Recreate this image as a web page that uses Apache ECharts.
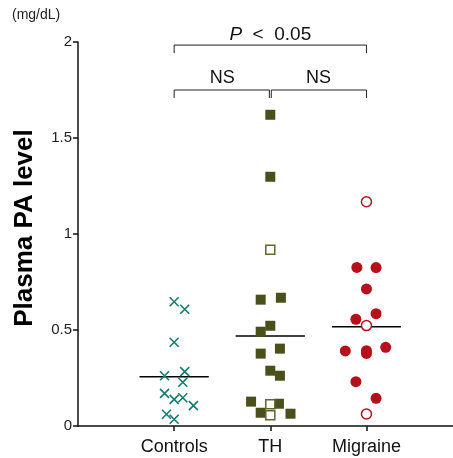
<!DOCTYPE html>
<html>
<head>
<meta charset="utf-8">
<script src="https://cdn.jsdelivr.net/npm/echarts@6/dist/echarts.min.js"></script>
<style>
html,body{margin:0;padding:0;background:#fff;}
#chart{width:453px;height:458px;}
</style>
</head>
<body>
<div id="chart"></div>
<script>
// ---- data ----
const categories = ['Controls', 'TH', 'Migraine'];
const yUnit = '(mg/dL)';
const yTitle = 'Plasma PA level';

const controlsValues = [0.647, 0.608, 0.436, 0.262, 0.283, 0.228, 0.170, 0.139, 0.147, 0.106, 0.061, 0.035];
const controlsJitter = [0, 0.11, 0, -0.10, 0.11, 0.09, -0.10, 0, 0.09, 0.20, -0.08, 0];

const thFilledValues = [1.621, 1.298, 0.658, 0.668, 0.522, 0.491, 0.377, 0.403, 0.288, 0.262, 0.127, 0.116, 0.069, 0.064];
const thFilledJitter = [0, 0, -0.10, 0.11, 0, -0.10, -0.10, 0.10, 0, 0.10, -0.20, 0.09, -0.10, 0.21];
const thOpenValues = [0.918, 0.113, 0.056];
const thOpenJitter = [0, 0, 0];

const migraineFilledValues = [0.826, 0.825, 0.714, 0.585, 0.556, 0.391, 0.392, 0.378, 0.410, 0.231, 0.144];
const migraineFilledJitter = [-0.10, 0.10, 0, 0.10, -0.11, -0.22, 0, 0, 0.20, -0.11, 0.10];
const migraineOpenValues = [1.168, 0.523, 0.0625];
const migraineOpenJitter = [0, 0, 0];

const groupMeans = [0.257, 0.469, 0.517];

const comparisons = [
  { from: 1, to: 3, label: 'P < 0.05', level: 1.984 },
  { from: 1, to: 2, label: 'NS', level: 1.75 },
  { from: 2, to: 3, label: 'NS', level: 1.75 }
];

// ---- build ----
const FONT = '"Liberation Sans", Arial, Helvetica, sans-serif';
const TEAL = '#167a6e';
const OLIVE = '#4b4f1c';
const RED = '#b5101b';

function pts(catIdx, vals, jit) {
  return vals.map((v, i) => [catIdx + 1 + jit[i], v]);
}

const meanHalf = 0.36;
const meanSeries = groupMeans.map((m, i) => ({
  type: 'line',
  data: [[i + 1 - meanHalf, m], [i + 1 + meanHalf, m]],
  symbol: 'none',
  lineStyle: { color: '#000', width: 1.5 },
  z: 2,
  silent: true
}));

const legH = 0.042;
const bracketSeries = comparisons.map(c => {
  const a = c.from + (c.from === 2 ? 0.01 : 0);
  const b = c.to - (c.to === 2 ? 0.01 : 0);
  return {
    type: 'line',
    data: [[a, c.level - legH], [a, c.level], [b, c.level], [b, c.level - legH]],
    symbol: 'none',
    clip: false,
    lineStyle: { color: '#222', width: 1 },
    silent: true
  };
});

const option = {
  animation: false,
  backgroundColor: '#fff',
  grid: { left: 78, right: 0, top: 42, bottom: 32, containLabel: false },
  xAxis: {
    type: 'value',
    min: 0,
    max: 3.9,
    splitLine: { show: false },
    axisLine: { show: true, onZero: false, lineStyle: { color: '#111', width: 1.5 } },
    axisTick: { show: true, customValues: [1, 2, 3], length: 5, inside: false, lineStyle: { color: '#111', width: 1.5 } },
    axisLabel: {
      customValues: [1, 2, 3],
      formatter: v => categories[Math.round(v) - 1] || '',
      fontSize: 18,
      fontFamily: FONT,
      color: '#111',
      margin: 12
    }
  },
  yAxis: {
    type: 'value',
    min: 0,
    max: 2,
    interval: 0.5,
    splitLine: { show: false },
    axisLine: { show: true, lineStyle: { color: '#111', width: 1.5 } },
    axisTick: { show: true, length: 5, lineStyle: { color: '#111', width: 1.5 } },
    axisLabel: { fontSize: 15, fontFamily: FONT, color: '#222', margin: 6 },
    name: yTitle,
    nameLocation: 'middle',
    nameRotate: 90,
    nameGap: 40,
    nameTextStyle: { fontSize: 26, fontWeight: 'bold', fontFamily: FONT, color: '#000', padding: [0, 0, 0, 12] }
  },
  series: [
    ...meanSeries,
    ...bracketSeries,
    {
      type: 'scatter',
      data: pts(0, controlsValues, controlsJitter),
      symbol: 'path://M0,0L10,10M10,0L0,10',
      symbolSize: 9,
      itemStyle: { color: 'none', borderColor: TEAL, borderWidth: 1.6, opacity: 1 },
      z: 3
    },
    {
      type: 'scatter',
      data: pts(1, thFilledValues, thFilledJitter),
      symbol: 'rect',
      symbolSize: 10,
      itemStyle: { color: OLIVE, opacity: 1 },
      z: 3
    },
    {
      type: 'scatter',
      data: pts(1, thOpenValues, thOpenJitter),
      symbol: 'rect',
      symbolSize: 9,
      itemStyle: { color: '#fff', borderColor: '#64652f', borderWidth: 1.5, opacity: 1 },
      z: 4
    },
    {
      type: 'scatter',
      data: pts(2, migraineFilledValues, migraineFilledJitter),
      symbol: 'circle',
      symbolSize: 11,
      itemStyle: { color: RED, opacity: 1 },
      z: 3
    },
    {
      type: 'scatter',
      data: pts(2, migraineOpenValues, migraineOpenJitter),
      symbol: 'circle',
      symbolSize: 10,
      itemStyle: { color: '#fff', borderColor: RED, borderWidth: 1.5, opacity: 1 },
      z: 4
    }
  ]
};

const chart = echarts.init(document.getElementById('chart'), null, { renderer: 'canvas' });
chart.setOption(option);

// annotations positioned through the axes
const graphics = [];
comparisons.forEach(c => {
  const p = chart.convertToPixel({ gridIndex: 0 }, [(c.from + c.to) / 2, c.level]);
  const isP = c.label.startsWith('P');
  graphics.push({
    type: 'text',
    x: p[0],
    y: p[1] - (isP ? 1 : 3),
    style: isP ? {
      text: '{i|P}  <  0.05',
      rich: { i: { fontStyle: 'italic', fontSize: 19, fontFamily: FONT, fill: '#111' } },
      fontSize: 19, fontFamily: FONT, fill: '#111',
      align: 'center', verticalAlign: 'bottom'
    } : {
      text: c.label,
      fontSize: 18, fontFamily: FONT, fill: '#111',
      align: 'center', verticalAlign: 'bottom'
    }
  });
});
graphics.push({
  type: 'text',
  left: 12,
  top: 8,
  style: { text: yUnit, fontSize: 14, fontFamily: FONT, fill: '#222' }
});
chart.setOption({ graphic: graphics });
</script>
</body>
</html>
